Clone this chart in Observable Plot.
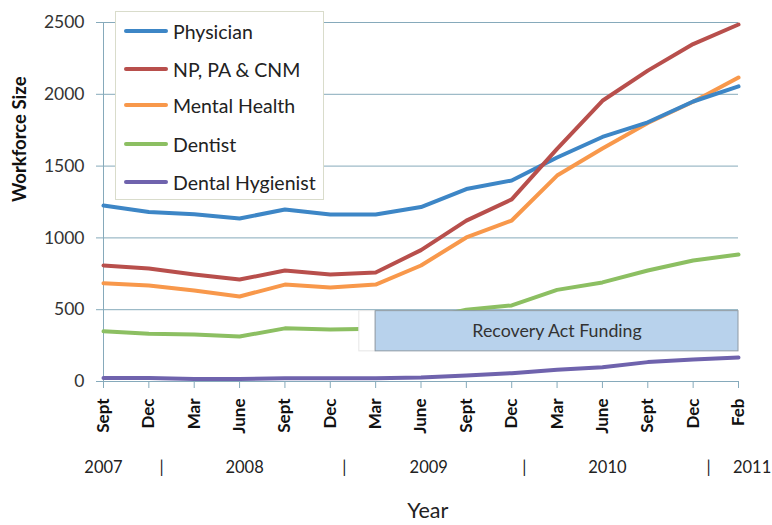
<!DOCTYPE html>
<html>
<head>
<meta charset="utf-8">
<script src="https://cdn.jsdelivr.net/npm/d3@7"></script>
<script src="https://cdn.jsdelivr.net/npm/@observablehq/plot@0.6"></script>
<style>
  html, body { margin: 0; padding: 0; background: #fff; }
  #wrap { position: relative; width: 772px; height: 525px; font-family: Lato, "Open Sans", sans-serif; }
  #legend { position: absolute; left: 115px; top: 11px; width: 209px; height: 189px; background: #fff; border: 1px solid #d9dccb; box-sizing: border-box; }
  .item { position: absolute; left: 8px; height: 20px; display: flex; align-items: center; font-size: 19.5px; color: #222; white-space: nowrap; }
  .sw { width: 44px; height: 4px; margin-right: 5px; border-radius: 2px; }
</style>
</head>
<body>
<div id="wrap"></div>
<script>
const months = ["Sept","Dec","Mar","June","Sept","Dec","Mar","June","Sept","Dec","Mar","June","Sept","Dec","Feb"];
const seriesNames = ["Physician","NP, PA & CNM","Mental Health","Dentist","Dental Hygienist"];
const seriesColors = ["#3d86c6","#b84f4c","#f8984b","#8cbf62","#6f63ad"];
const physician = [1225,1180,1165,1135,1198,1163,1163,1215,1340,1400,1560,1703,1805,1950,2055];
const npPaCnm   = [808,787,745,710,773,745,759,915,1120,1268,1620,1955,2165,2350,2486];
const mentalHealth = [685,668,634,592,675,654,675,808,1003,1121,1434,1622,1800,1948,2117];
const dentist   = [350,333,327,313,370,362,368,430,500,530,638,690,773,843,884];
const dentalHygienist = [25,25,18,18,22,22,22,28,42,58,82,100,135,153,167];
const yTicks = [0,500,1000,1500,2000,2500];
const yearLabels = ["2007","|","2008","|","2009","|","2010","|","2011"];
const yearPos = [0,1.28,3.11,5.31,7.17,9.28,11.11,13.34,14.3];
const recovery = {label: "Recovery Act Funding", start: 6, end: 14, low: 210, high: 490, padStart: 5.64};

const allSeries = [physician, npPaCnm, mentalHealth, dentist, dentalHygienist];
const rows = [];
allSeries.forEach((vals, s) => vals.forEach((v, i) => rows.push({i, v, s: seriesNames[s]})));
const order = [4,3,2,0,1];

const grid = "#86aabb";
const chart = Plot.plot({
  width: 772, height: 525,
  marginLeft: 103, marginRight: 34, marginTop: 22, marginBottom: 144,
  style: {fontFamily: "Lato, 'Open Sans', sans-serif", background: "#fff"},
  x: {type: "linear", domain: [0, 14]},
  y: {domain: [0, 2500]},
  marks: [
    Plot.ruleY(yTicks.filter(d => d > 0), {stroke: grid, strokeWidth: 1}),
    Plot.ruleX([0], {y1: 0, y2: 2500, stroke: grid, strokeWidth: 1}),
    Plot.ruleY([0], {stroke: grid, strokeWidth: 1}),
    Plot.axisY({ticks: yTicks, tickFormat: d => String(d), tickSize: 7, tickPadding: 12, stroke: grid, fontSize: 17.5, fill: "#333", label: null}),
    Plot.axisX({ticks: d3.range(0, 15), tickFormat: i => months[i], tickSize: 7, tickPadding: 10, tickRotate: -90,
                stroke: grid, fontSize: 17, fontWeight: "bold", fill: "#111", label: null}),
    ...order.map(s => Plot.line(rows.filter(r => r.s === seriesNames[s]), {x: "i", y: "v", stroke: seriesColors[s], strokeWidth: 4, strokeLinejoin: "round", strokeLinecap: "round"})),
    Plot.rect([recovery], {x1: "padStart", x2: "start", y1: "low", y2: "high", fill: "#fff", stroke: "#e6e6e6", strokeWidth: 1}),
    Plot.rect([recovery], {x1: "start", x2: "end", y1: "low", y2: "high", fill: "#b8d2ec", stroke: "#8f9aa4", strokeWidth: 1}),
    Plot.text([recovery], {x: d => (d.start + d.end) / 2, y: d => (d.low + d.high) / 2, text: "label", fontSize: 17.8, fill: "#333"}),
    Plot.text(yearLabels, {x: (d, k) => yearPos[k], y: () => 0, dy: 86, text: d => d, fontSize: 16.5, fill: "#222"}),
    Plot.text(["Year"], {x: () => 7.15, y: () => 0, dy: 130, text: d => d, fontSize: 21.5, fill: "#222"}),
    Plot.text(["Workforce Size"], {frameAnchor: "left", dx: -83, rotate: -90, text: d => d, fontSize: 18.5, fontWeight: "bold", fill: "#111"})
  ]
});
const wrap = document.getElementById("wrap");
wrap.appendChild(chart);

const legend = document.createElement("div");
legend.id = "legend";
const rowY = [19, 57, 93, 132, 170];
seriesNames.forEach((name, k) => {
  const it = document.createElement("div");
  it.className = "item";
  it.style.top = (rowY[k] - 10) + "px";
  const sw = document.createElement("span");
  sw.className = "sw";
  sw.style.background = seriesColors[k];
  it.appendChild(sw);
  const t = document.createElement("span");
  t.textContent = name;
  it.appendChild(t);
  legend.appendChild(it);
});
wrap.appendChild(legend);
</script>
</body>
</html>
